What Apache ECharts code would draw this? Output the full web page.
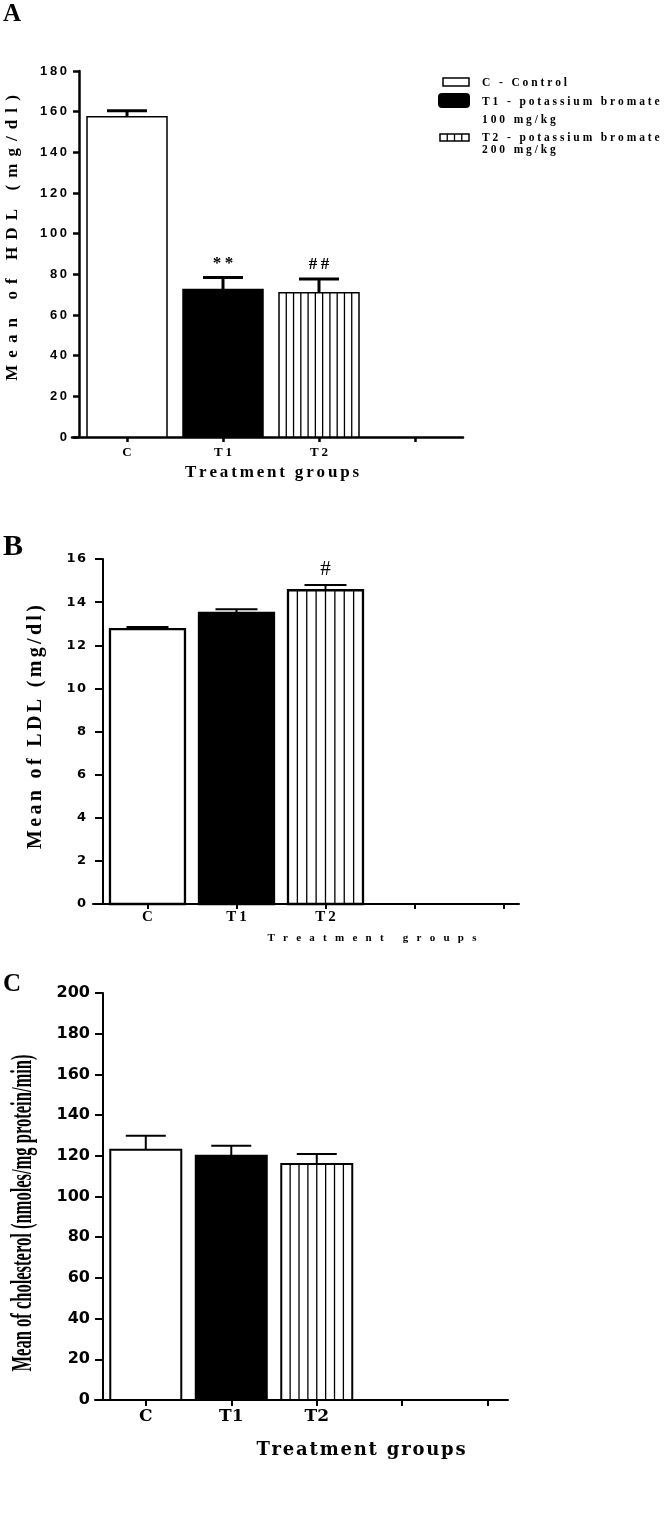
<!DOCTYPE html>
<html>
<head>
<meta charset="utf-8">
<script src="https://cdn.jsdelivr.net/npm/echarts@6/dist/echarts.min.js"></script>
<style>
  html, body { margin: 0; padding: 0; background: #fff; }
  #chart { width: 670px; height: 1522px; }
</style>
</head>
<body>
<div id="chart"></div>
<script>
// treatment groups (bars sit in the middle of slot i, i.e. at i + 0.5)
var groups = ['C', 'T1', 'T2'];

// A - HDL (mg/dl)
var hdlMean = [157.5, 72.5, 71];
var hdlSem = [3, 6, 6.7];
var hdlSig = ['', '**', '##'];
var hdlTicks = [0, 180, 20];

// B - LDL (mg/dl)
var ldlMean = [12.75, 13.5, 14.55];
var ldlSem = [0.1, 0.17, 0.25];
var ldlSig = ['', '', '#'];
var ldlTicks = [0, 16, 2];

// C - cholesterol (nmoles/mg protein/min)
var cholMean = [123, 120, 116];
var cholSem = [6.8, 5, 4.9];
var cholSig = ['', '', ''];
var cholTicks = [0, 200, 20];

var legendLines = [['C - Control'], ['T1 - potassium bromate', '100 mg/kg'], ['T2 - potassium bromate', '200 mg/kg']];

var SERIF = '"Liberation Serif", "Times New Roman", serif';
var SANS = '"Liberation Sans", Arial, sans-serif';
var DSANS = '"DejaVu Sans", sans-serif';
var DSERIF = '"DejaVu Serif", serif';

function spaced(s, sep) { return s.split('').join(sep); }

var panels = [
  { grid: { left: 72, top: 71, width: 391, height: 366 }, xMin: -0.073, xMax: 4.0, slots: 4,
    ticks: hdlTicks, mean: hdlMean, sem: hdlSem, sig: hdlSig,
    axisLw: 2.5, yTickLen: 6, xTickLen: 5,
    yFont: SANS, ySize: 13, ySep: '\u2009', yMargin: 5,
    xFont: SERIF, xSize: 13, xSep: '\u2009', xMargin: 9,
    barW: 80, stripes: 11, barLw: 1.5, errLw: 3, capW: 40,
    sigFont: 'bold 17px ' + SERIF, sigOff: 14 },
  { grid: { left: 93, top: 559, width: 426, height: 345 }, xMin: -0.112, xMax: 4.674, slots: 5,
    ticks: ldlTicks, mean: ldlMean, sem: ldlSem, sig: ldlSig,
    axisLw: 2, yTickLen: 8, xTickLen: 5,
    yFont: DSANS, ySize: 13, ySep: '\u200A', yMargin: 7,
    xFont: SERIF, xSize: 15, xSep: '\u2009', xMargin: 6,
    barW: 75, stripes: 8, barLw: 2.3, errLw: 2, capW: 42,
    sigFont: '21px ' + SERIF, sigOff: 15 },
  { grid: { left: 95, top: 993, width: 413, height: 407 }, xMin: -0.094, xMax: 4.737, slots: 5,
    ticks: cholTicks, mean: cholMean, sem: cholSem, sig: cholSig,
    axisLw: 2, yTickLen: 8, xTickLen: 6,
    yFont: DSANS, ySize: 16, ySep: '', yMargin: 5,
    xFont: DSERIF, xSize: 17, xSep: '', xMargin: 8,
    barW: 71, stripes: 8, barLw: 2, errLw: 2, capW: 40,
    sigFont: 'bold 17px ' + SERIF, sigOff: 14 }
];

function lineStyle(w) { return { color: '#000', width: w }; }

function barItem(p) {
  return function (params, api) {
    var x = api.value(0), g = api.value(2);
    var top = api.coord([x, api.value(1)]);
    var base = api.coord([x, 0]);
    var left = top[0] - p.barW / 2;
    var kids = [{
      type: 'rect',
      shape: { x: left, y: top[1], width: p.barW, height: base[1] - top[1] },
      style: { fill: g === 1 ? '#000' : '#fff', stroke: '#000', lineWidth: p.barLw }
    }];
    if (g === 2) {
      var step = p.barW / p.stripes;
      for (var k = 1; k < p.stripes; k++) {
        kids.push({ type: 'line',
          shape: { x1: left + k * step, y1: top[1], x2: left + k * step, y2: base[1] },
          style: { stroke: '#000', lineWidth: 1.3 } });
      }
    }
    return { type: 'group', children: kids };
  };
}

function errItem(p) {
  return function (params, api) {
    var x = api.value(0), m = api.value(1), e = api.value(2);
    var a = api.coord([x, m]), b = api.coord([x, m + e]);
    var kids = [
      { type: 'line', shape: { x1: a[0], y1: a[1], x2: b[0], y2: b[1] }, style: { stroke: '#000', lineWidth: p.errLw } },
      { type: 'line', shape: { x1: b[0] - p.capW / 2, y1: b[1], x2: b[0] + p.capW / 2, y2: b[1] }, style: { stroke: '#000', lineWidth: p.errLw } }
    ];
    var s = p.sig[params.dataIndex];
    if (s) {
      kids.push({ type: 'text', style: { text: spaced(s, '\u2009'), x: b[0], y: b[1] - p.sigOff,
        font: p.sigFont, fill: '#000', align: 'center', verticalAlign: 'middle',
        textAlign: 'center', textVerticalAlign: 'middle' } });
    }
    return { type: 'group', children: kids };
  };
}

var grids = [], xAxes = [], yAxes = [], series = [];
panels.forEach(function (p, idx) {
  var slotPos = [];
  for (var i = 0; i < p.slots; i++) slotPos.push(i + 0.5);
  grids.push(Object.assign({ outerBoundsMode: 'none', containLabel: false }, p.grid));
  xAxes.push({
    gridIndex: idx, type: 'value', min: p.xMin, max: p.xMax,
    splitLine: { show: false },
    axisLine: { show: true, onZero: true, lineStyle: lineStyle(p.axisLw) },
    axisTick: { show: true, customValues: slotPos, length: p.xTickLen, lineStyle: lineStyle(p.axisLw) },
    axisLabel: {
      customValues: groups.map(function (g, i) { return i + 0.5; }),
      formatter: function (v) { var k = Math.round(v - 0.5); return groups[k] ? spaced(groups[k], p.xSep) : ''; },
      margin: p.xMargin, color: '#000', fontFamily: p.xFont, fontWeight: 'bold', fontSize: p.xSize
    }
  });
  yAxes.push({
    gridIndex: idx, type: 'value', min: p.ticks[0], max: p.ticks[1], interval: p.ticks[2],
    splitLine: { show: false },
    axisLine: { show: true, onZero: true, lineStyle: lineStyle(p.axisLw) },
    axisTick: { show: true, length: p.yTickLen, lineStyle: lineStyle(p.axisLw) },
    axisLabel: {
      margin: p.yMargin, color: '#000', fontFamily: p.yFont, fontWeight: 'bold', fontSize: p.ySize,
      formatter: function (v) { return spaced(String(v), p.ySep); }
    }
  });
  series.push({
    type: 'custom', xAxisIndex: idx, yAxisIndex: idx, clip: false, silent: true,
    encode: { x: 0, y: 1 }, renderItem: barItem(p),
    data: groups.map(function (g, i) { return [i + 0.5, p.mean[i], i]; })
  });
  series.push({
    type: 'custom', xAxisIndex: idx, yAxisIndex: idx, clip: false, silent: true, z: 3,
    encode: { x: 0, y: 1 }, renderItem: errItem(p),
    data: groups.map(function (g, i) { return [i + 0.5, p.mean[i], p.sem[i]]; })
  });
});

function txt(x, y, text, font, extra) {
  var al = (extra && extra.align) || 'center';
  var el = { type: 'text', x: x, y: y, silent: true,
    style: { text: text, font: font, fill: '#000', align: al, verticalAlign: 'middle',
      textAlign: al, textVerticalAlign: 'middle' } };
  if (extra && extra.rotation) el.rotation = extra.rotation;
  if (extra && extra.scaleX) el.scaleX = extra.scaleX;
  return el;
}

var graphics = [
  // panel letters
  txt(3, 15, 'A', 'bold 25px ' + SERIF, { align: 'left' }),
  txt(3, 547, 'B', 'bold 30px ' + SERIF, { align: 'left' }),
  txt(3, 985, 'C', 'bold 25px ' + SERIF, { align: 'left' }),
  // y axis titles
  txt(13, 238, spaced('Mean of HDL (mg/dl)', '\u2005\u2006'), 'bold 17px ' + SERIF, { rotation: Math.PI / 2 }),
  txt(36, 727, spaced('Mean of LDL (mg/dl)', '\u2006'), 'bold 20px ' + SERIF, { rotation: Math.PI / 2 }),
  txt(24, 1213, 'Mean of cholesterol (nmoles/mg protein/min)', 'bold 29px ' + SERIF, { rotation: Math.PI / 2, scaleX: 0.57 }),
  // x axis titles
  txt(272, 473, spaced('Treatment groups', '\u2006'), 'bold 17px ' + SERIF),
  txt(372, 938, spaced('Treatment groups', '\u2002\u2005'), 'bold 11px ' + SERIF),
  txt(361, 1450, spaced('Treatment groups', '\u200A'), 'bold 18px ' + DSERIF),
  // legend of panel A
  { type: 'rect', shape: { x: 443, y: 78, width: 26, height: 8 }, style: { fill: '#fff', stroke: '#000', lineWidth: 1.5 } },
  { type: 'rect', shape: { x: 438, y: 93, width: 32, height: 15, r: 4 }, style: { fill: '#000' } },
  { type: 'rect', shape: { x: 440, y: 134, width: 29, height: 7 }, style: { fill: '#fff', stroke: '#000', lineWidth: 1.5 } }
];
[447.25, 454.5, 461.75].forEach(function (lx) {
  graphics.push({ type: 'line', shape: { x1: lx, y1: 134, x2: lx, y2: 141 }, style: { stroke: '#000', lineWidth: 1.3 } });
});
var legendY = [[83], [102, 120], [138, 150]];
legendLines.forEach(function (lines, i) {
  lines.forEach(function (line, j) {
    graphics.push(txt(482, legendY[i][j], spaced(line, '\u2005'), 'bold 11.5px ' + SERIF, { align: 'left' }));
  });
});

var chart = echarts.init(document.getElementById('chart'));
chart.setOption({
  animation: false,
  backgroundColor: '#fff',
  grid: grids,
  xAxis: xAxes,
  yAxis: yAxes,
  series: series,
  graphic: graphics
});
</script>
</body>
</html>
